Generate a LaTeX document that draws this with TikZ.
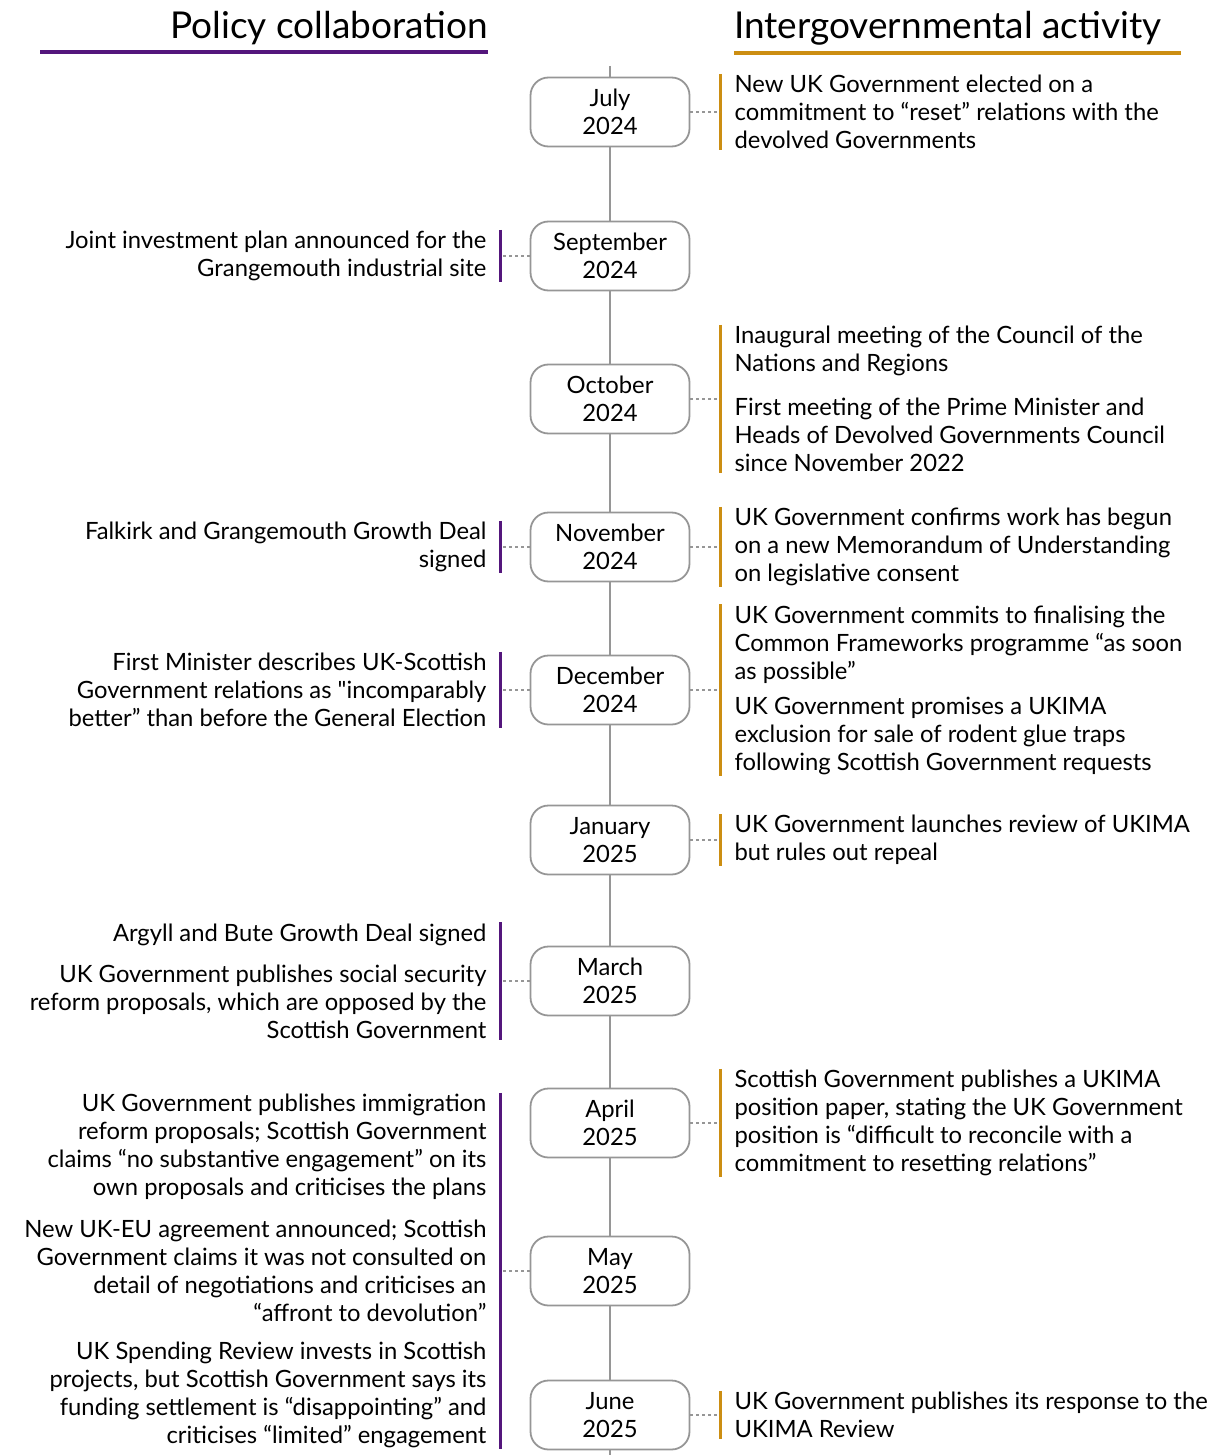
\documentclass[tikz,border=0pt]{standalone}
\usepackage{fontspec}
\setmainfont{Lato}[Ligatures=TeXOff]
\usetikzlibrary{positioning}
\definecolor{polpurple}{RGB}{84,22,124}
\definecolor{iggold}{RGB}{204,142,18}
\definecolor{linegrey}{RGB}{150,150,150}
\newcommand{\evfont}{\fontsize{23.8}{28}\selectfont}
\newcommand{\headfont}{\fontsize{37}{44}\selectfont}
\tikzset{
datebox/.style={draw=linegrey, line width=1.8pt, fill=white, rounded corners=18pt, minimum width=159pt, minimum height=69pt, align=center, inner sep=0pt, font=\evfont}, event/.style={inner xsep=0pt, inner ysep=1pt, font=\evfont}, evright/.style={event, align=left}, evleft/.style={event, align=right}, pbar/.style={draw=polpurple, line width=3.5pt}, gbar/.style={draw=iggold, line width=3.5pt}, dotlink/.style={draw=linegrey, line width=1.6pt, dash pattern=on 3pt off 3pt}, spine/.style={draw=linegrey, line width=2pt}, heading/.style={inner sep=0pt, font=\headfont}}
\begin{document}
\begin{tikzpicture}[x=1pt, y=-1pt]
\useasboundingbox (0,0) rectangle (1221,1455);
% column headings
\node [heading, anchor=base east] (head-l) at (488,39) {Policy collaboration};
\node [heading, anchor=base west] (head-r) at (734,39) {Intergovernmental activity};
\draw [draw=polpurple, line width=4pt] (40,52) -- (488,52);
\draw [draw=iggold, line width=4pt] (734,53) -- (1181,53);
% timeline
\coordinate (top) at (610,66);
\coordinate (bottom) at (610,1455);
\foreach \mon/\yr/\ypos [count=\i, evaluate=\i as \ii using int(\i-1)] in {July/2024/112, September/2024/256, October/2024/399, November/2024/547, December/2024/690, January/2025/840, March/2025/981, April/2025/1123, May/2025/1271, June/2025/1415}{
      \node [datebox] at (610,\ypos) (d-\i) {\mon\\\yr};
      \ifnum\i>1
          \draw [spine] (d-\ii) -- (d-\i);
      \fi
}
\draw [spine] (top) -- (d-1);
\draw [spine] (d-10) -- (bottom);
% intergovernmental activity
\node [evright, right=44pt of d-1] (r-1) {New UK Government elected on a\\commitment to “reset” relations with the\\devolved Governments};
\node [evright, right=44pt of d-3] (r-2) {Inaugural meeting of the Council of the\\Nations and Regions\\[16pt]First meeting of the Prime Minister and\\Heads of Devolved Governments Council\\since November 2022};
\node [evright, right=44pt of d-4] (r-3) {UK Government confirms work has begun\\on a new Memorandum of Understanding\\on legislative consent};
\node [evright, right=44pt of d-5] (r-4) {UK Government commits to finalising the\\Common Frameworks programme “as soon\\as possible”\\[7pt]UK Government promises a UKIMA\\exclusion for sale of rodent glue traps\\following Scottish Government requests};
\node [evright, right=44pt of d-6] (r-5) {UK Government launches review of UKIMA\\but rules out repeal};
\node [evright, right=44pt of d-8] (r-6) {Scottish Government publishes a UKIMA\\position paper, stating the UK Government\\position is “difficult to reconcile with a\\commitment to resetting relations”};
\node [evright, right=44pt of d-10] (r-7) {UK Government publishes its response to the\\UKIMA Review};
% policy collaboration
\node [evleft, left=43pt of d-2] (l-1) {Joint investment plan announced for the\\Grangemouth industrial site};
\node [evleft, left=43pt of d-4] (l-2) {Falkirk and Grangemouth Growth Deal\\signed};
\node [evleft, left=43pt of d-5] (l-3) {First Minister describes UK-Scottish\\Government relations as "incomparably\\better” than before the General Election};
\node [evleft, left=43pt of d-7] (l-4) {Argyll and Bute Growth Deal signed\\[13pt]UK Government publishes social security\\reform proposals, which are opposed by the\\Scottish Government};
\node [evleft, left=43pt of d-9] (l-5) {UK Government publishes immigration\\reform proposals; Scottish Government\\claims “no substantive engagement” on its\\own proposals and criticises the plans\\[14pt]New UK-EU agreement announced; Scottish\\Government claims it was not consulted on\\detail of negotiations and criticises an\\“affront to devolution”\\[10pt]UK Spending Review invests in Scottish\\projects, but Scottish Government says its\\funding settlement is “disappointing” and\\criticises “limited” engagement};
% bars and links
\foreach \e/\d in {r-1/d-1, r-2/d-3, r-3/d-4, r-4/d-5, r-5/d-6, r-6/d-8, r-7/d-10}{
      \draw [gbar] ([xshift=-14pt]\e.north west) -- ([xshift=-14pt]\e.south west);
      \coordinate (\e-bar) at ([xshift=-14pt]\e.west);
      \draw [dotlink] (\d.east) -- (\d.east -| \e-bar);
}
\foreach \e/\d in {l-1/d-2, l-2/d-4, l-3/d-5, l-4/d-7, l-5/d-9}{
      \draw [pbar] ([xshift=14pt]\e.north east) -- ([xshift=14pt]\e.south east);
      \coordinate (\e-bar) at ([xshift=14pt]\e.east);
      \draw [dotlink] (\d.west) -- (\d.west -| \e-bar);
}
\end{tikzpicture}
\end{document}
